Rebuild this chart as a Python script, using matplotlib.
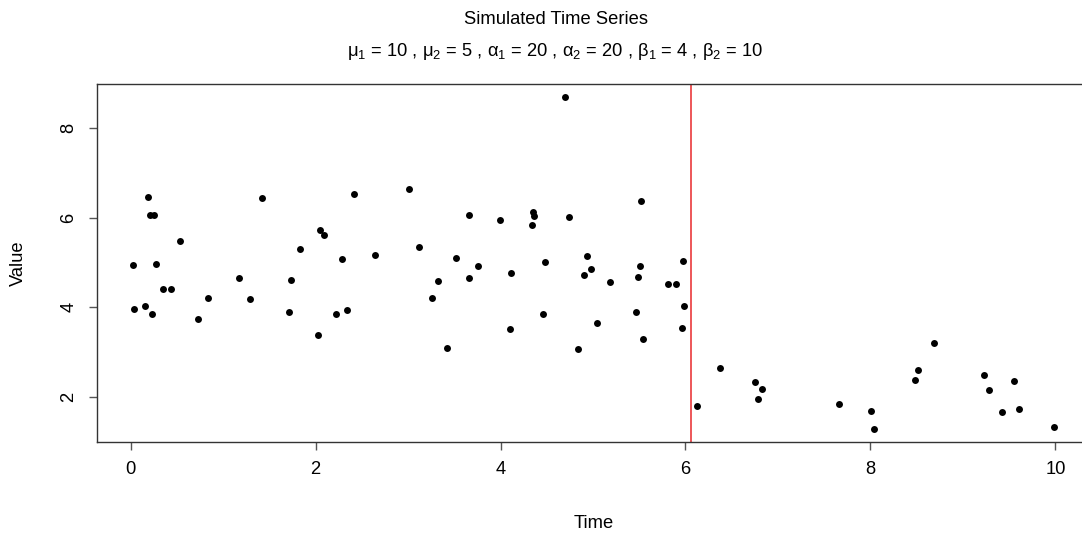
import numpy as np
import matplotlib
matplotlib.use("Agg")
import matplotlib.pyplot as plt

# === datos ===
time = [0.028, 0.036, 0.19, 0.209, 0.256, 0.158, 0.23, 0.277, 0.353, 0.433,
        0.533, 0.731, 0.839, 1.168, 1.287, 1.424, 1.709, 1.737, 1.831, 2.026,
        2.051, 2.091, 2.217, 2.285, 2.336, 2.415, 2.646, 3.01, 3.118, 3.262,
        3.32, 3.421, 3.518, 3.656, 3.656, 3.753, 3.991, 4.099, 4.117, 4.337,
        4.348, 4.365, 4.463, 4.481, 4.7, 4.744, 4.841, 4.906, 4.935, 4.975,
        5.047, 5.187, 5.462, 5.487, 5.512, 5.519, 5.541, 5.808, 5.901, 5.959,
        5.973, 5.981, 6.125, 6.377, 6.749, 6.828, 6.781, 7.657, 8.01, 8.042,
        8.483, 8.519, 8.685, 9.226, 9.286, 9.427, 9.55, 9.604, 9.983]
value = [4.935, 3.957, 6.463, 6.06, 6.06, 4.018, 3.852, 4.971, 4.405, 4.405,
         5.479, 3.727, 4.21, 4.651, 4.188, 6.441, 3.884, 4.613, 5.307, 3.383,
         5.718, 5.62, 3.839, 5.076, 3.942, 6.523, 5.172, 6.649, 5.345, 4.197,
         4.591, 3.085, 5.092, 6.054, 4.658, 4.927, 5.942, 3.503, 4.763, 5.83,
         6.121, 6.045, 3.852, 5.016, 8.7, 6.022, 3.056, 4.718, 5.15, 4.852,
         3.644, 4.562, 3.884, 4.673, 4.927, 6.38, 3.286, 4.524, 4.524, 3.539,
         5.025, 4.031, 1.794, 2.638, 2.318, 2.168, 1.951, 1.832, 1.669, 1.273,
         2.362, 2.586, 3.204, 2.474, 2.145, 1.653, 2.34, 1.72, 1.324]
changepoint = 6.057

titulo = "Simulated Time Series"
subtitulo = ("μ$_1$ = 10 , μ$_2$ = 5 , α$_1$ = 20 , α$_2$ = 20 , "
             "β$_1$ = 4 , β$_2$ = 10")
xticks = [0, 2, 4, 6, 8, 10]
yticks = [2, 4, 6, 8]

plt.rcParams["font.family"] = ["Liberation Sans", "DejaVu Sans"]
plt.rcParams["mathtext.default"] = "regular"

W, H = 1082, 536
fs = 13.2
fig = plt.figure(figsize=(W / 100, H / 100), dpi=100)
# el marco se sale por la derecha, como en la original
ax = fig.add_axes([96.7 / W, 1 - 441.7 / H, 993.6 / W, 357.7 / H])

ax.plot(time, value, "o", color="black", markersize=5.0, markeredgewidth=0)
ax.axvline(changepoint, color="#e8282b", lw=1.1)

ax.set_xlim(-0.368, 10.378)
ax.set_ylim(0.99, 8.99)
ax.set_xticks(xticks)
ax.set_yticks(yticks)
ax.set_yticklabels([str(v) for v in yticks], rotation=90, va="center")
ax.tick_params(length=6, width=1, color="#555555", labelsize=fs, pad=8)
for s in ax.spines.values():
    s.set_color("#333333")
    s.set_linewidth(1)

fig.text(556 / W, 1 - 20 / H, titulo, ha="center", va="center", fontsize=fs)
fig.text(555 / W, 1 - 51 / H, subtitulo, ha="center", va="center", fontsize=fs)
fig.text(593.5 / W, 1 - 523 / H, "Time", ha="center", va="center", fontsize=fs)
fig.text(18 / W, 1 - 263 / H, "Value", ha="center", va="center",
         rotation=90, fontsize=fs)

fig.savefig("out.png", dpi=100)
